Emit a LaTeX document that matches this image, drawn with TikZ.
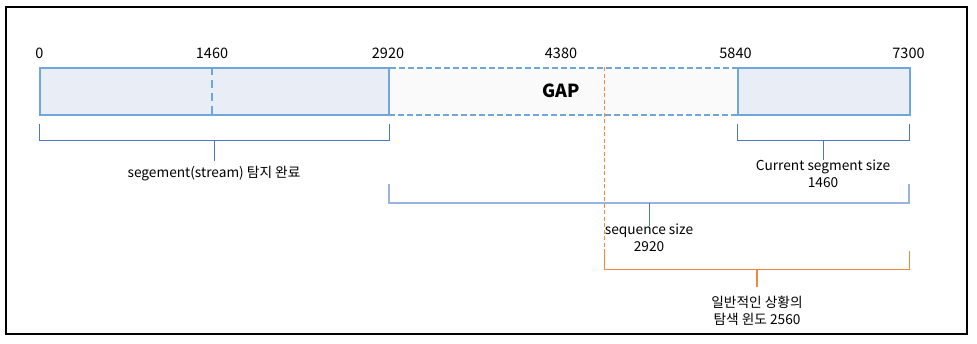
\documentclass[tikz,border=0pt]{standalone}
\usepackage{fontspec}
\setmainfont{Noto Sans CJK KR}
\usetikzlibrary{calc}
\definecolor{barblue}{HTML}{6FA6DC}
\definecolor{barfill}{HTML}{E9EEF6}
\definecolor{gapfill}{HTML}{FAFAFA}
\definecolor{brblue}{HTML}{4A78C6}
\definecolor{brlight}{HTML}{98B4E2}
\definecolor{orng}{HTML}{F0883E}
\tikzset{
  segbox/.style={draw=barblue, fill=barfill, line width=2pt, minimum height=47pt, inner sep=0pt, anchor=north west},
  gapbox/.style={draw=barblue, fill=gapfill, line width=2pt, dash pattern=on 6pt off 3pt, minimum height=47pt, inner sep=0pt, anchor=north west},
  tick/.style={font=\fontsize{14.5}{16}\selectfont, inner sep=0pt},
  lbl/.style={font=\fontsize{13.7}{16.5}\selectfont, inner sep=0pt, align=center},
  brk/.style={draw=brblue, line width=1pt},
}
\begin{document}
\begin{tikzpicture}[x=1pt,y=-1pt]
\useasboundingbox (0,0) rectangle (977,343);
\draw[line width=2pt] (6,6.5) rectangle (967,334);
% bar
\node[gapbox, minimum width=349pt] (gap) at (388,67) {};
\node[segbox, minimum width=349pt] (s1) at (39,67) {};
\node[segbox, minimum width=172pt] (s3) at (737,67) {};
\node[font=\fontsize{18}{20}\selectfont\bfseries, inner sep=0pt] (gaplbl) at (561,91) {GAP};
\coordinate (m1top) at (212,67);
\coordinate (m1bot) at (212,114);
\draw[draw=barblue, line width=2.8pt, dash pattern=on 8pt off 5pt] (m1top) -- (m1bot);
% tick labels
\node[tick] (t0) at (39.5,53) {0};
\node[tick] (t1) at (212,53) {1460};
\node[tick] (t2) at (388,53) {2920};
\node[tick] (t3) at (561,53) {4380};
\node[tick] (t4) at (735.5,53) {5840};
\node[tick] (t5) at (908.5,53) {7300};
% orange dashed line
\coordinate (otop) at (604,67);
\coordinate (obot) at (604,251);
\draw[orng, line width=1pt, dash pattern=on 4pt off 2.5pt] (otop) -- (obot);
% bracket 1
\node[lbl] (l1) at (214,174) {segement(stream) 탐지 완료};
\draw[brk] (39,124) -- (39,140) -- (389,140) -- (389,124);
\draw[brk] (214,140) -- (214,161);
% bracket 2
\node[lbl] (l2) at (823,174) {Current segment size\\1460};
\draw[brk] (737,124) -- (737,140) -- (909,140) -- (909,124);
\draw[brk] (823,140) -- (823,160);
% bracket 3
\draw[draw=brlight, line width=1.3pt] (389,184) -- (389,203) -- (909,203) -- (909,184);
\draw[brk] (649,203) -- (649,226);
\node[lbl] (l3) at (649,238) {sequence size\\2920};
% bracket 4
\draw[orng, line width=1pt] (604,251) -- (604,269) -- (909,269) -- (909,251);
\draw[orng, line width=1.3pt] (757,269) -- (757,287);
\node[lbl] (l4) at (757,311) {일반적인 상황의\\탐색 윈도 2560};
\end{tikzpicture}
\end{document}
